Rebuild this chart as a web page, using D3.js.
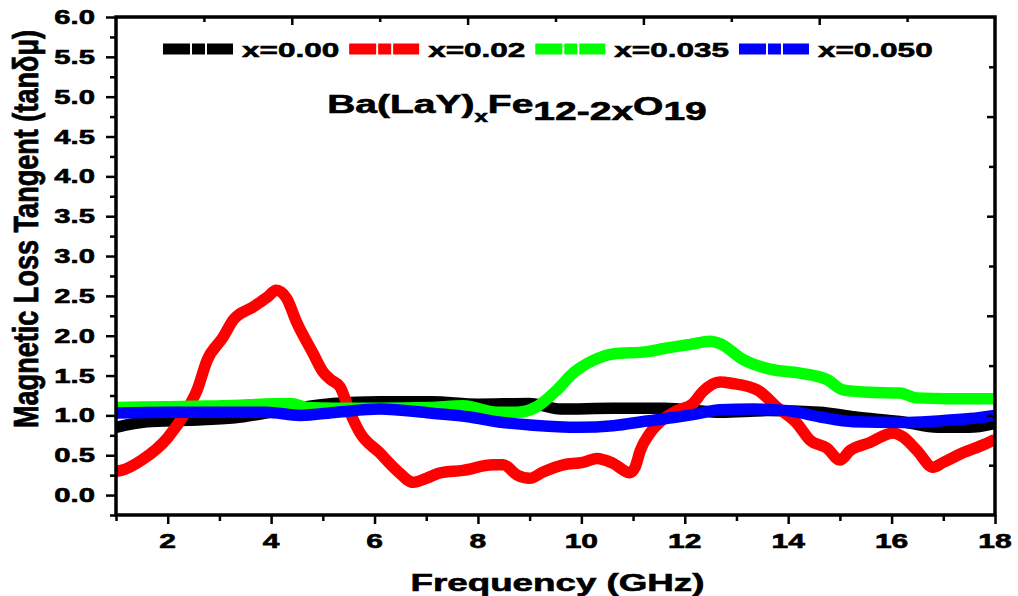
<!DOCTYPE html>
<html>
<head>
<meta charset="utf-8">
<script src="https://cdn.jsdelivr.net/npm/d3@7"></script>
<style>
  body { margin: 0; background: #fff; }
  svg { display: block; }
</style>
</head>
<body>
<svg id="chart" width="1018" height="596"></svg>
<script>
/*
Data
*/
var seriesNames = ["x=0.00", "x=0.02", "x=0.035", "x=0.050"];
var seriesColors = ["#000000", "#ff0000", "#00ff00", "#0000ff"];

var blackFreq = [1.0, 1.6, 2.4, 3.3, 3.9, 4.6, 5.2, 6.1, 7.1, 8.0, 9.0, 9.6, 10.6, 11.6, 12.7, 13.6, 14.6, 15.3, 16.2, 16.9, 17.5, 18.0];
var blackVals = [0.85, 0.92, 0.94, 0.97, 1.03, 1.10, 1.15, 1.17, 1.17, 1.14, 1.15, 1.08, 1.09, 1.09, 1.04, 1.06, 1.04, 0.98, 0.92, 0.85, 0.85, 0.90];

var redFreq = [1.0, 1.1, 1.5, 2.0, 2.37, 2.57, 2.76, 3.07, 3.27, 3.65, 3.92, 4.1, 4.3, 4.5, 4.81, 5.0, 5.15, 5.33, 5.53, 5.72, 6.1, 6.43, 6.75, 7.0, 7.27, 7.71, 8.29, 8.49, 8.76, 9.0, 9.26, 9.65, 10.03, 10.3, 10.61, 10.94, 11.04, 11.14, 11.33, 11.58, 11.85, 12.16, 12.35, 12.68, 12.93, 13.4, 13.79, 14.17, 14.42, 14.75, 15.0, 15.2, 15.58, 16.03, 16.22, 16.49, 16.8, 17.0, 17.38, 17.77, 18.0];
var redVals = [0.30, 0.31, 0.44, 0.72, 1.07, 1.32, 1.69, 1.98, 2.20, 2.36, 2.48, 2.57, 2.47, 2.16, 1.78, 1.55, 1.45, 1.36, 1.03, 0.78, 0.53, 0.31, 0.16, 0.21, 0.28, 0.31, 0.38, 0.38, 0.25, 0.21, 0.29, 0.38, 0.41, 0.46, 0.40, 0.28, 0.35, 0.56, 0.78, 0.95, 1.06, 1.15, 1.30, 1.42, 1.40, 1.32, 1.10, 0.90, 0.69, 0.59, 0.44, 0.56, 0.66, 0.78, 0.73, 0.56, 0.35, 0.41, 0.53, 0.63, 0.70];

var greenFreq = [1.0, 2.0, 3.0, 4.37, 4.7, 5.2, 6.1, 7.07, 7.71, 8.37, 8.76, 9.14, 9.53, 9.84, 10.23, 10.61, 11.27, 11.6, 12.1, 12.49, 12.68, 13.13, 13.65, 14.23, 14.75, 15.06, 15.58, 16.16, 16.49, 17.07, 18.0];
var greenVals = [1.10, 1.11, 1.12, 1.15, 1.10, 1.09, 1.09, 1.10, 1.12, 1.04, 1.04, 1.11, 1.32, 1.53, 1.69, 1.77, 1.80, 1.84, 1.89, 1.93, 1.90, 1.70, 1.58, 1.53, 1.45, 1.32, 1.29, 1.28, 1.22, 1.21, 1.21];

var blueFreq = [1.0, 2.0, 3.0, 3.9, 4.56, 5.27, 6.1, 7.07, 7.85, 8.37, 9.0, 9.97, 10.61, 11.27, 11.85, 12.24, 12.68, 13.32, 13.98, 14.62, 15.26, 16.22, 16.88, 17.52, 18.0];
var blueVals = [1.03, 1.04, 1.04, 1.04, 1.00, 1.04, 1.08, 1.03, 0.98, 0.92, 0.88, 0.85, 0.87, 0.93, 0.98, 1.02, 1.07, 1.08, 1.06, 0.98, 0.92, 0.91, 0.93, 0.96, 1.00];

var xMajorTicks = [2, 4, 6, 8, 10, 12, 14, 16, 18];
var xMinorTicks = [1, 3, 5, 7, 9, 11, 13, 15, 17];
var yMajorTicks = [0.0, 0.5, 1.0, 1.5, 2.0, 2.5, 3.0, 3.5, 4.0, 4.5, 5.0, 5.5, 6.0];
var yMinorTicks = [-0.25, 0.25, 0.75, 1.25, 1.75, 2.25, 2.75, 3.25, 3.75, 4.25, 4.75, 5.25, 5.75];

/*
Setup
*/
var FONT = "'Liberation Sans', Arial, sans-serif";
var SX = 1.5;   // the picture is stretched sideways
var plotL = 116, plotR = 995, plotT = 17, plotB = 515;

var svg = d3.select("#chart");
var x = d3.scaleLinear().domain([1, 18]).range([plotL, plotR]);
var y = d3.scaleLinear().domain([-0.25, 6]).range([plotB, plotT]);

function label(parent, px, py, str, size, anchor){
  return parent.append("text")
    .attr("transform", "translate(" + px + "," + py + ") scale(" + SX + ",1)")
    .attr("text-anchor", anchor)
    .attr("font-family", FONT)
    .attr("font-weight", "bold")
    .attr("font-size", size)
    .attr("fill", "#000")
    .attr("stroke", "#000")
    .attr("stroke-width", 0.6)
    .text(str);
}

/*
Lines
*/
svg.append("clipPath").attr("id", "plotclip")
  .append("rect")
  .attr("x", plotL).attr("y", plotT)
  .attr("width", plotR - plotL).attr("height", plotB - plotT);

var series = [
  {freq: blackFreq, vals: blackVals},
  {freq: redFreq, vals: redVals},
  {freq: greenFreq, vals: greenVals},
  {freq: blueFreq, vals: blueVals}
];

var line = d3.line()
  .x(function(d){ return x(d[0]); })
  .y(function(d){ return y(d[1]); })
  .curve(d3.curveMonotoneX);

svg.append("g").attr("clip-path", "url(#plotclip)")
  .selectAll("path")
  .data(series)
  .enter()
  .append("path")
  .attr("d", function(s){ return line(d3.zip(s.freq, s.vals)); })
  .attr("fill", "none")
  .attr("stroke", function(d, i){ return seriesColors[i]; })
  .attr("stroke-width", 11.5)
  .attr("stroke-linejoin", "bevel");

/*
Axes
*/
function styleTicks(g){
  g.select(".domain").remove();
  g.selectAll(".tick line").attr("stroke", "#000").attr("stroke-width", 2.5);
  g.selectAll(".tick text").remove();
}

// bottom, outward
svg.append("g").attr("transform", "translate(0," + plotB + ")")
  .call(d3.axisBottom(x).tickValues(xMajorTicks).tickSize(9)).call(styleTicks);
svg.append("g").attr("transform", "translate(0," + plotB + ")")
  .call(d3.axisBottom(x).tickValues(xMinorTicks).tickSize(6)).call(styleTicks);
// left, outward
svg.append("g").attr("transform", "translate(" + plotL + ",0)")
  .call(d3.axisLeft(y).tickValues(yMajorTicks).tickSize(10)).call(styleTicks);
svg.append("g").attr("transform", "translate(" + plotL + ",0)")
  .call(d3.axisLeft(y).tickValues(yMinorTicks).tickSize(6)).call(styleTicks);

// top and right carry their own plain ticks, pointing inward
var xt = d3.scaleLinear().domain([0, 10]).range([plotL, plotR]);
var yr = d3.scaleLinear().domain([0, 10]).range([plotB, plotT]);
svg.append("g").attr("transform", "translate(0," + plotT + ")")
  .call(d3.axisBottom(xt).tickValues([2, 4, 6, 8]).tickSize(8)).call(styleTicks);
svg.append("g").attr("transform", "translate(0," + plotT + ")")
  .call(d3.axisBottom(xt).tickValues([1, 3, 5, 7, 9]).tickSize(5)).call(styleTicks);
svg.append("g").attr("transform", "translate(" + plotR + ",0)")
  .call(d3.axisLeft(yr).tickValues([2, 4, 6, 8]).tickSize(8)).call(styleTicks);
svg.append("g").attr("transform", "translate(" + plotR + ",0)")
  .call(d3.axisLeft(yr).tickValues([1, 3, 5, 7, 9]).tickSize(6)).call(styleTicks);

svg.append("rect")
  .attr("x", plotL).attr("y", plotT)
  .attr("width", plotR - plotL).attr("height", plotB - plotT)
  .attr("fill", "none").attr("stroke", "#000").attr("stroke-width", 3.5);

// tick labels
var labels = svg.append("g");
yMajorTicks.forEach(function(v){
  label(labels, 95, y(v), d3.format(".1f")(v), 19.5, "end").attr("dy", "0.36em");
});
xMajorTicks.forEach(function(v){
  label(labels, x(v), 548, String(v), 20, "middle");
});

// axis titles
label(svg, (plotL + plotR) / 2 + 2, 591, "Frequency (GHz)", 24.5, "middle");

svg.append("text")
  .attr("transform", "translate(38,229) scale(" + SX + ",1) rotate(-90)")
  .attr("text-anchor", "middle")
  .attr("font-family", FONT)
  .attr("font-weight", "bold")
  .attr("font-size", 23)
  .attr("stroke", "#000")
  .attr("stroke-width", 0.5)
  .attr("textLength", 398)
  .attr("lengthAdjust", "spacingAndGlyphs")
  .text("Magnetic Loss Tangent (tanδμ)");

/*
Formula
*/
var formula = label(svg, 517, 113, "", 26, "middle");
formula.append("tspan").text("Ba(LaY)");
formula.append("tspan").attr("font-size", 16).attr("dy", 9).text("x");
formula.append("tspan").attr("dy", -9).text("Fe");
formula.append("tspan").attr("dy", 7).text("12-2x");
formula.append("tspan").attr("dy", -5).text("O");
formula.append("tspan").attr("dy", 5).text("19");

/*
Legend
*/
var legend = svg.append("g");
var lx = 163, ly = 49;
seriesNames.forEach(function(name, i){
  legend.append("line")
    .attr("x1", lx).attr("x2", lx + 70)
    .attr("y1", ly).attr("y2", ly)
    .attr("stroke", seriesColors[i])
    .attr("stroke-width", 11)
    .attr("stroke-dasharray", "27,2,13,2,26");
  var t = label(legend, lx + 79, ly, name, 21, "start").attr("dy", "0.36em");
  lx = lx + 79 + t.node().getComputedTextLength() * SX + 10;
});
</script>
</body>
</html>
